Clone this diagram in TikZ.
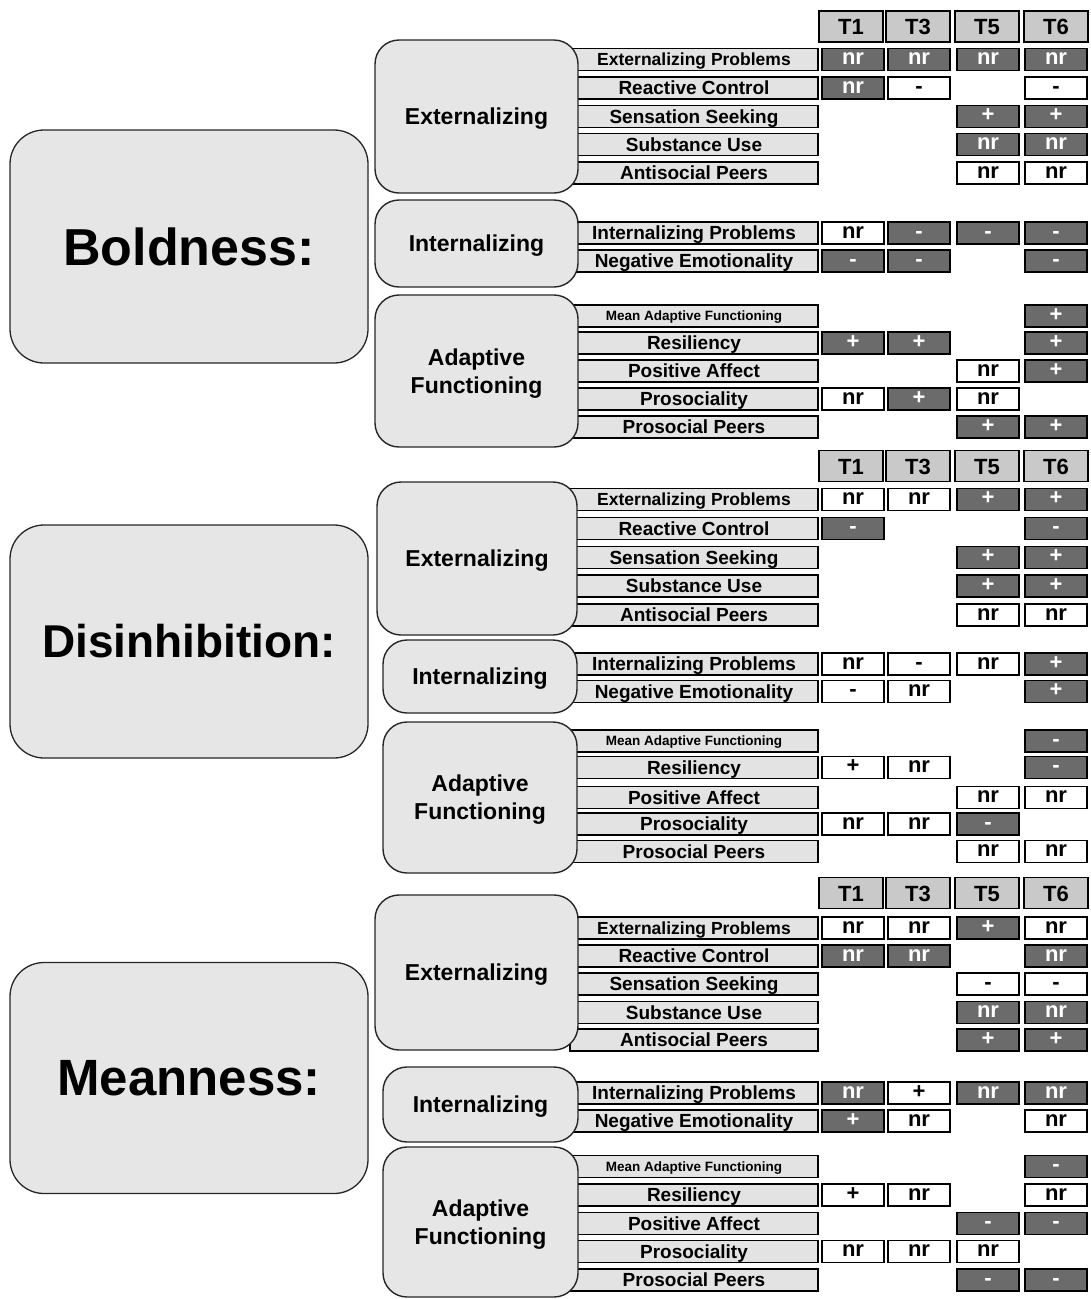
\documentclass[tikz,border=0pt]{standalone}
\usepackage{fontspec}
\setmainfont{Liberation Sans}
\definecolor{boxgray}{HTML}{E6E6E6}
\definecolor{labgray}{HTML}{E3E3E3}
\definecolor{hdrgray}{HTML}{C9C9C9}
\definecolor{cellgray}{HTML}{6B6B6B}
\newcommand\fs[1]{\bfseries\fontsize{#1}{#1}\selectfont}
\def\xTa{853}\def\xTb{919}\def\xTc{988}\def\xTd{1056}
\newcommand\rw[4]{\node[lab,#4] (#1) at (694,#2) {#3};}
\newcommand\cl[5]{\node[#4] (#1) at (#2,#3) {#5};}
\newcommand\hd[2]{%
  \node[hdr] (#1-h1) at (851,#2) {T1};
  \node[hdr] (#1-h3) at (918,#2) {T3};
  \node[hdr] (#1-h5) at (987,#2) {T5};
  \node[hdr] (#1-h6) at (1056,#2) {T6};}
\begin{document}
\begin{tikzpicture}[x=1pt,y=-1pt,
  mainbox/.style={draw=black!85, line width=1.3pt, fill=boxgray, rounded corners=34pt,
    minimum width=358pt, inner sep=0pt},
  grpbox/.style={draw=black!85, line width=1.4pt, fill=boxgray, rounded corners=24pt,
    inner sep=0pt, text height=16.5pt, text depth=0pt, font=\fs{23}},
  adabox/.style={grpbox, align=center, text height=44.5pt, text depth=0pt},
  lab/.style={draw=black, line width=1.2pt, fill=labgray, minimum width=248pt,
    minimum height=22pt, inner sep=0pt, text height=13.5pt, text depth=0pt, font=\fs{19}},
  smalllab/.style={text height=9.5pt, font=\fs{13.5}},
  midlab/.style={text height=12.5pt, font=\fs{17.5}},
  hdr/.style={draw=black, line width=1.5pt, fill=hdrgray, minimum width=64pt,
    minimum height=31pt, inner sep=0pt, text height=16pt, text depth=0pt, font=\fs{22}},
  dk/.style={draw=black, line width=1.5pt, fill=cellgray, text=white, minimum width=62pt,
    minimum height=22pt, inner sep=0pt, text height=10pt, text depth=0pt, font=\fs{22}},
  wt/.style={dk, fill=white, text=black}]
\path[use as bounding box] (0,0) rectangle (1091,1299);

% ---------------- main boxes
\node[mainbox, minimum height=233pt, font=\fs{52}] (bold) at (189,246.5) {Boldness:};
\node[mainbox, minimum height=233pt, font=\fs{46}] (disin) at (189,641.5) {Disinhibition:};
\node[mainbox, minimum height=231pt, font=\fs{51}] (mean) at (189,1078) {Meanness:};

% ================= BOLDNESS
\hd{B}{26.5}
\rw{B-ep}{59.5}{Externalizing Problems}{midlab}
\rw{B-rc}{88}{Reactive Control}{}
\rw{B-ss}{116.5}{Sensation Seeking}{}
\rw{B-su}{144.5}{Substance Use}{}
\rw{B-ap}{173}{Antisocial Peers}{}
\rw{B-ip}{233}{Internalizing Problems}{}
\rw{B-ne}{261}{Negative Emotionality}{}
\rw{B-maf}{316}{Mean Adaptive Functioning}{smalllab}
\rw{B-res}{343}{Resiliency}{}
\rw{B-pa}{371}{Positive Affect}{}
\rw{B-pro}{399}{Prosociality}{}
\rw{B-pp}{427}{Prosocial Peers}{}
\node[grpbox, minimum width=203pt, minimum height=153pt] (B-ext) at (476.5,116.5) {Externalizing};
\node[grpbox, minimum width=203pt, minimum height=87pt] (B-int) at (476.5,243.5) {Internalizing};
\node[adabox, minimum width=203pt, minimum height=152pt] (B-ada) at (476.5,371) {Adaptive\\[5pt]Functioning};

\cl{B-ep1}{\xTa}{59.5}{dk}{nr}\cl{B-ep3}{\xTb}{59.5}{dk}{nr}\cl{B-ep5}{\xTc}{59.5}{dk}{nr}\cl{B-ep6}{\xTd}{59.5}{dk}{nr}
\cl{B-rc1}{\xTa}{88}{dk}{nr}\cl{B-rc3}{\xTb}{88}{wt}{-}\cl{B-rc6}{\xTd}{88}{wt}{-}
\cl{B-ss5}{\xTc}{116.5}{dk}{+}\cl{B-ss6}{\xTd}{116.5}{dk}{+}
\cl{B-su5}{\xTc}{144.5}{dk}{nr}\cl{B-su6}{\xTd}{144.5}{dk}{nr}
\cl{B-ap5}{\xTc}{173}{wt}{nr}\cl{B-ap6}{\xTd}{173}{wt}{nr}
\cl{B-ip1}{\xTa}{233}{wt}{nr}\cl{B-ip3}{\xTb}{233}{dk}{-}\cl{B-ip5}{\xTc}{233}{dk}{-}\cl{B-ip6}{\xTd}{233}{dk}{-}
\cl{B-ne1}{\xTa}{261}{dk}{-}\cl{B-ne3}{\xTb}{261}{dk}{-}\cl{B-ne6}{\xTd}{261}{dk}{-}
\cl{B-maf6}{\xTd}{316}{dk}{+}
\cl{B-res1}{\xTa}{343}{dk}{+}\cl{B-res3}{\xTb}{343}{dk}{+}\cl{B-res6}{\xTd}{343}{dk}{+}
\cl{B-pa5}{\xTc}{371}{wt}{nr}\cl{B-pa6}{\xTd}{371}{dk}{+}
\cl{B-pro1}{\xTa}{399}{wt}{nr}\cl{B-pro3}{\xTb}{399}{dk}{+}\cl{B-pro5}{\xTc}{399}{wt}{nr}
\cl{B-pp5}{\xTc}{427}{dk}{+}\cl{B-pp6}{\xTd}{427}{dk}{+}

% ================= DISINHIBITION
\hd{D}{466}
\rw{D-ep}{499.5}{Externalizing Problems}{midlab}
\rw{D-rc}{528.5}{Reactive Control}{}
\rw{D-ss}{557.5}{Sensation Seeking}{}
\rw{D-su}{586}{Substance Use}{}
\rw{D-ap}{615}{Antisocial Peers}{}
\rw{D-ip}{664}{Internalizing Problems}{}
\rw{D-ne}{691.5}{Negative Emotionality}{}
\rw{D-maf}{741}{Mean Adaptive Functioning}{smalllab}
\rw{D-res}{767.5}{Resiliency}{}
\rw{D-pa}{797.5}{Positive Affect}{}
\rw{D-pro}{824}{Prosociality}{}
\rw{D-pp}{851.5}{Prosocial Peers}{}
\node[grpbox, minimum width=200pt, minimum height=153pt] (D-ext) at (477,558.5) {Externalizing};
\node[grpbox, minimum width=194pt, minimum height=73pt] (D-int) at (480,676.5) {Internalizing};
\node[adabox, minimum width=194pt, minimum height=151pt] (D-ada) at (480,797.5) {Adaptive\\[5pt]Functioning};

\cl{D-ep1}{\xTa}{499.5}{wt}{nr}\cl{D-ep3}{\xTb}{499.5}{wt}{nr}\cl{D-ep5}{\xTc}{499.5}{dk}{+}\cl{D-ep6}{\xTd}{499.5}{dk}{+}
\cl{D-rc1}{\xTa}{528.5}{dk}{-}\cl{D-rc6}{\xTd}{528.5}{dk}{-}
\cl{D-ss5}{\xTc}{557.5}{dk}{+}\cl{D-ss6}{\xTd}{557.5}{dk}{+}
\cl{D-su5}{\xTc}{586}{dk}{+}\cl{D-su6}{\xTd}{586}{dk}{+}
\cl{D-ap5}{\xTc}{615}{wt}{nr}\cl{D-ap6}{\xTd}{615}{wt}{nr}
\cl{D-ip1}{\xTa}{664}{wt}{nr}\cl{D-ip3}{\xTb}{664}{wt}{-}\cl{D-ip5}{\xTc}{664}{wt}{nr}\cl{D-ip6}{\xTd}{664}{dk}{+}
\cl{D-ne1}{\xTa}{691.5}{wt}{-}\cl{D-ne3}{\xTb}{691.5}{wt}{nr}\cl{D-ne6}{\xTd}{691.5}{dk}{+}
\cl{D-maf6}{\xTd}{741}{dk}{-}
\cl{D-res1}{\xTa}{767.5}{wt}{+}\cl{D-res3}{\xTb}{767.5}{wt}{nr}\cl{D-res6}{\xTd}{767.5}{dk}{-}
\cl{D-pa5}{\xTc}{797.5}{wt}{nr}\cl{D-pa6}{\xTd}{797.5}{wt}{nr}
\cl{D-pro1}{\xTa}{824}{wt}{nr}\cl{D-pro3}{\xTb}{824}{wt}{nr}\cl{D-pro5}{\xTc}{824}{dk}{-}
\cl{D-pp5}{\xTc}{851.5}{wt}{nr}\cl{D-pp6}{\xTd}{851.5}{wt}{nr}

% ================= MEANNESS
\hd{M}{893}
\rw{M-ep}{928}{Externalizing Problems}{midlab}
\rw{M-rc}{956}{Reactive Control}{}
\rw{M-ss}{984}{Sensation Seeking}{}
\rw{M-su}{1012.5}{Substance Use}{}
\rw{M-ap}{1040}{Antisocial Peers}{}
\rw{M-ip}{1093}{Internalizing Problems}{}
\rw{M-ne}{1121}{Negative Emotionality}{}
\rw{M-maf}{1166.5}{Mean Adaptive Functioning}{smalllab}
\rw{M-res}{1195}{Resiliency}{}
\rw{M-pa}{1223.5}{Positive Affect}{}
\rw{M-pro}{1251.5}{Prosociality}{}
\rw{M-pp}{1280}{Prosocial Peers}{}
\node[grpbox, minimum width=203pt, minimum height=155pt] (M-ext) at (476.5,972.5) {Externalizing};
\node[grpbox, minimum width=195pt, minimum height=75pt] (M-int) at (480.5,1104.5) {Internalizing};
\node[adabox, minimum width=195pt, minimum height=150pt] (M-ada) at (480.5,1222) {Adaptive\\[5pt]Functioning};

\cl{M-ep1}{\xTa}{928}{wt}{nr}\cl{M-ep3}{\xTb}{928}{wt}{nr}\cl{M-ep5}{\xTc}{928}{dk}{+}\cl{M-ep6}{\xTd}{928}{wt}{nr}
\cl{M-rc1}{\xTa}{956}{dk}{nr}\cl{M-rc3}{\xTb}{956}{dk}{nr}\cl{M-rc6}{\xTd}{956}{dk}{nr}
\cl{M-ss5}{\xTc}{984}{wt}{-}\cl{M-ss6}{\xTd}{984}{wt}{-}
\cl{M-su5}{\xTc}{1012.5}{dk}{nr}\cl{M-su6}{\xTd}{1012.5}{dk}{nr}
\cl{M-ap5}{\xTc}{1040}{dk}{+}\cl{M-ap6}{\xTd}{1040}{dk}{+}
\cl{M-ip1}{\xTa}{1093}{dk}{nr}\cl{M-ip3}{\xTb}{1093}{wt}{+}\cl{M-ip5}{\xTc}{1093}{dk}{nr}\cl{M-ip6}{\xTd}{1093}{dk}{nr}
\cl{M-ne1}{\xTa}{1121}{dk}{+}\cl{M-ne3}{\xTb}{1121}{wt}{nr}\cl{M-ne6}{\xTd}{1121}{wt}{nr}
\cl{M-maf6}{\xTd}{1166.5}{dk}{-}
\cl{M-res1}{\xTa}{1195}{wt}{+}\cl{M-res3}{\xTb}{1195}{wt}{nr}\cl{M-res6}{\xTd}{1195}{wt}{nr}
\cl{M-pa5}{\xTc}{1223.5}{dk}{-}\cl{M-pa6}{\xTd}{1223.5}{dk}{-}
\cl{M-pro1}{\xTa}{1251.5}{wt}{nr}\cl{M-pro3}{\xTb}{1251.5}{wt}{nr}\cl{M-pro5}{\xTc}{1251.5}{wt}{nr}
\cl{M-pp5}{\xTc}{1280}{dk}{-}\cl{M-pp6}{\xTd}{1280}{dk}{-}
\end{tikzpicture}
\end{document}
